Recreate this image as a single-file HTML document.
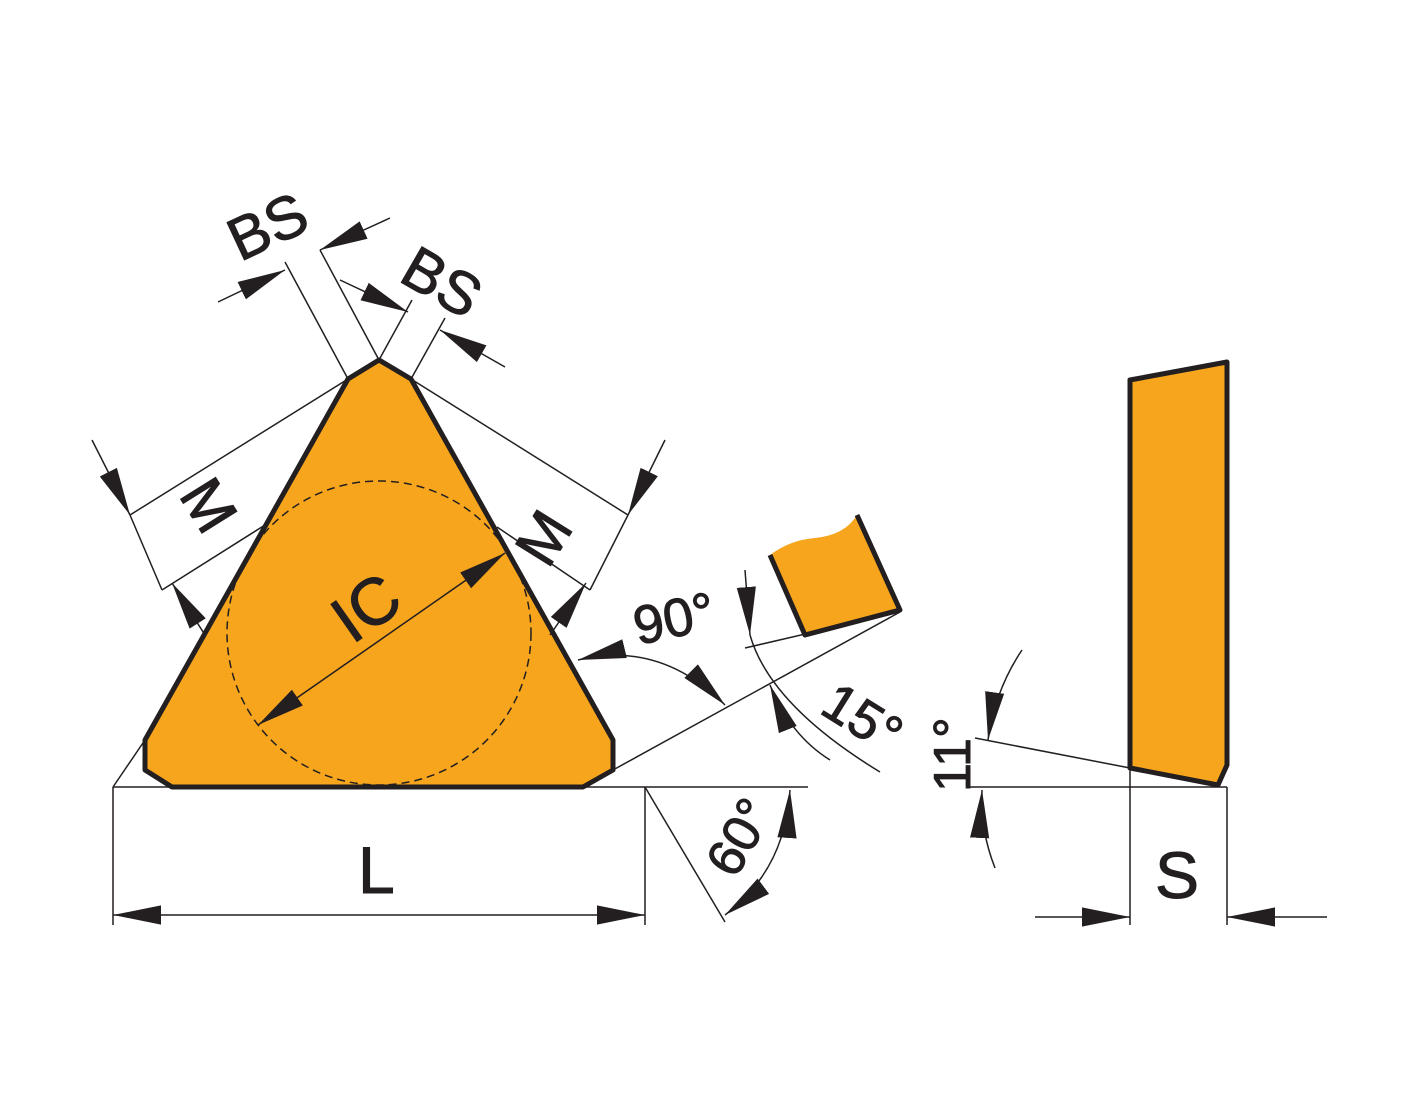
<!DOCTYPE html>
<html><head><meta charset="utf-8"><style>
html,body{margin:0;padding:0;background:#fff;}
svg{display:block;}
text{font-family:"Liberation Sans",Arial,sans-serif;fill:#231f20;stroke:#231f20;stroke-width:1;}
</style></head><body>
<svg width="1417" height="1110" viewBox="0 0 1417 1110" xmlns="http://www.w3.org/2000/svg">
<defs>
<marker id="a" viewBox="0 0 20 10" refX="20" refY="5" markerWidth="48" markerHeight="24" markerUnits="userSpaceOnUse" orient="auto-start-reverse">
<path d="M0,1 L20,5 L0,9 z" fill="#231f20"/></marker>
</defs>
<g stroke="#231f20" stroke-width="1.5" fill="none">
<line x1="113" y1="787" x2="808" y2="787"/>
<line x1="113" y1="787" x2="145" y2="740"/>
<line x1="113" y1="787" x2="113" y2="925"/>
<line x1="645" y1="787" x2="645" y2="925"/>
<line x1="645" y1="787" x2="725" y2="922"/>
<line x1="613" y1="770" x2="900" y2="612"/>
<line x1="745" y1="648" x2="900" y2="612"/>
<line x1="975" y1="738" x2="1130" y2="768"/>
<line x1="970" y1="787" x2="1227" y2="787"/>
<line x1="1130" y1="768" x2="1130" y2="925"/>
<line x1="1227" y1="787" x2="1227" y2="925"/>
<line x1="348" y1="379" x2="130" y2="515"/>
<line x1="265" y1="525" x2="162" y2="590"/>
<line x1="411" y1="379" x2="628" y2="515"/>
<line x1="497" y1="527" x2="590" y2="590"/>
<line x1="348" y1="379" x2="285" y2="262"/>
<line x1="379" y1="360" x2="320" y2="250"/>
<line x1="379" y1="360" x2="412" y2="300"/>
<line x1="411" y1="379" x2="445" y2="318"/>
</g>
<polygon points="379,360 411,379 613,740 613,770 583,787 172,787 145,770 145,740 348,379" fill="#f7a51d" stroke="#231f20" stroke-width="5" stroke-linejoin="round"/>
<circle cx="379" cy="633" r="152" fill="none" stroke="#231f20" stroke-width="1.5" stroke-dasharray="8,5"/>
<path d="M770,555 Q790,540 815,538 Q845,535 857,515 L900,610 L805,635 Z" fill="#f7a51d"/>
<path d="M770,555 L805,635 L900,610 L857,515" fill="none" stroke="#231f20" stroke-width="5" stroke-linejoin="round"/>
<polygon points="1130,380 1227,362 1227,765 1218,785 1130,768" fill="#f7a51d" stroke="#231f20" stroke-width="5" stroke-linejoin="round"/>
<g stroke="#231f20" stroke-width="1.5" fill="none">
<line x1="258" y1="725" x2="505" y2="553" marker-start="url(#a)" marker-end="url(#a)"/>
<line x1="113" y1="915" x2="645" y2="915" marker-start="url(#a)" marker-end="url(#a)"/>
<line x1="92" y1="440" x2="130" y2="515" marker-end="url(#a)"/>
<line x1="130" y1="515" x2="162" y2="590"/>
<line x1="205" y1="635" x2="172" y2="583" marker-end="url(#a)"/>
<line x1="665" y1="440" x2="628" y2="515" marker-end="url(#a)"/>
<line x1="628" y1="515" x2="590" y2="590"/>
<line x1="550" y1="635" x2="586" y2="583" marker-end="url(#a)"/>
<line x1="218" y1="302" x2="285" y2="270" marker-end="url(#a)"/>
<line x1="390" y1="218" x2="320" y2="250" marker-end="url(#a)"/>
<line x1="340" y1="280" x2="408" y2="312" marker-end="url(#a)"/>
<line x1="505" y1="367" x2="440" y2="330" marker-end="url(#a)"/>
<line x1="1035" y1="917" x2="1130" y2="917" marker-end="url(#a)"/>
<line x1="1327" y1="917" x2="1227" y2="917" marker-end="url(#a)"/>
<path d="M578,660 Q660,640 725,705" marker-start="url(#a)" marker-end="url(#a)"/>
<path d="M725,915 Q785,870 790,790" marker-start="url(#a)" marker-end="url(#a)"/>
<path d="M745,570 L750,635" marker-end="url(#a)"/>
<path d="M750,635 Q770,705 880,772"/>
<path d="M830,760 Q790,735 770,685" marker-end="url(#a)"/>
<path d="M1022,650 Q995,690 988,740" marker-end="url(#a)"/>
<path d="M995,868 Q980,830 982,790" marker-end="url(#a)"/>
</g>
<text font-size="66" transform="translate(352,645) rotate(-35)">IC</text>
<text x="358" y="893" font-size="66">L</text>
<text x="1155" y="898" font-size="66">S</text>
<text font-size="60" transform="translate(240,262) rotate(-25)">BS</text>
<text font-size="60" transform="translate(397,280) rotate(30)">BS</text>
<text font-size="60" transform="translate(178,495) rotate(58)">M</text>
<text font-size="60" transform="translate(548,570) rotate(-58)">M</text>
<text font-size="54" transform="translate(638,645) rotate(-12)">90°</text>
<text font-size="54" transform="translate(818,712) rotate(32)">15°</text>
<text font-size="52" transform="translate(970,792) rotate(-90)">11°</text>
<text font-size="52" transform="translate(735,880) rotate(-60)">60°</text>
</svg>
</body></html>
